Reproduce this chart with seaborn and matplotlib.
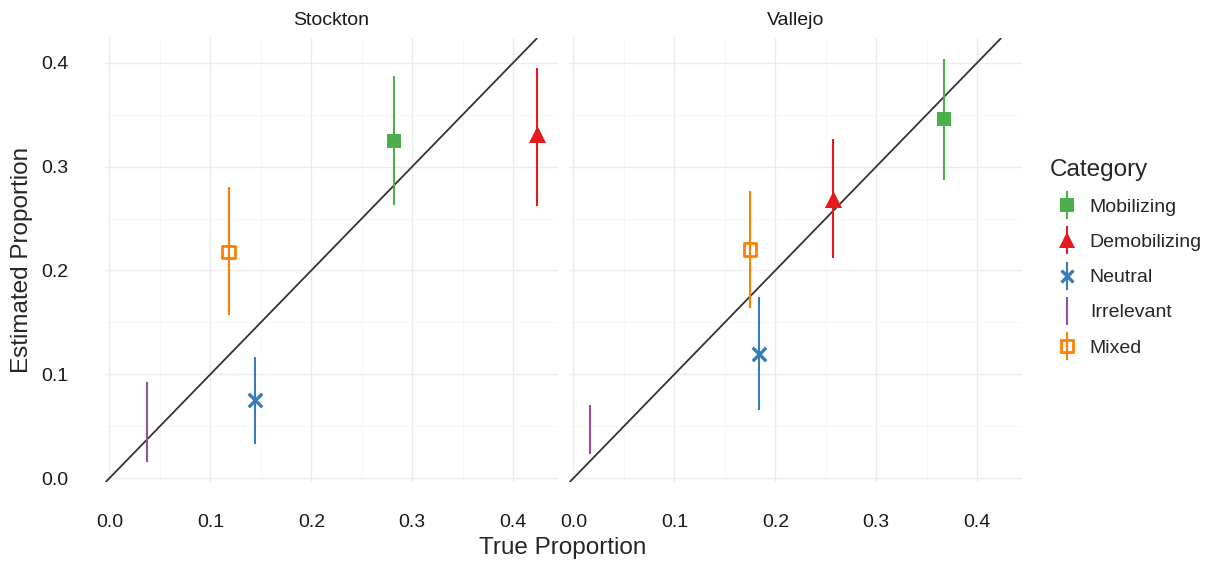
import pandas as pd
import matplotlib
matplotlib.use("Agg")
import matplotlib.pyplot as plt
import seaborn as sns
from matplotlib.lines import Line2D
from matplotlib.legend_handler import HandlerTuple
from matplotlib.ticker import MultipleLocator

# Data
categories = ["Mobilizing", "Demobilizing", "Neutral", "Irrelevant", "Mixed"]
cities = ["Stockton", "Vallejo"]

stockton_true = [0.282, 0.424, 0.144, 0.037, 0.118]
stockton_est = [0.325, 0.331, 0.075, 0.055, 0.218]
stockton_lo = [0.263, 0.262, 0.033, 0.016, 0.157]
stockton_hi = [0.387, 0.395, 0.117, 0.093, 0.280]

vallejo_true = [0.367, 0.257, 0.184, 0.016, 0.175]
vallejo_est = [0.346, 0.269, 0.120, 0.046, 0.220]
vallejo_lo = [0.287, 0.212, 0.066, 0.023, 0.164]
vallejo_hi = [0.404, 0.327, 0.174, 0.070, 0.276]

palette = {"Mobilizing": "#4DAF4A", "Demobilizing": "#E41A1C", "Neutral": "#377EB8",
           "Irrelevant": "#984EA3", "Mixed": "#FF7F00"}

df = pd.concat([
    pd.DataFrame({"city": "Stockton", "category": categories, "true": stockton_true,
                  "est": stockton_est, "lo": stockton_lo, "hi": stockton_hi}),
    pd.DataFrame({"city": "Vallejo", "category": categories, "true": vallejo_true,
                  "est": vallejo_est, "lo": vallejo_lo, "hi": vallejo_hi}),
])

sns.set_theme(style="white")
plt.rcParams["font.family"] = ["Liberation Sans", "DejaVu Sans"]

fig = plt.figure(figsize=(12.12, 5.63), dpi=100)
W, H = 1212, 563
bottom, top = 481.7, 38.4
panels = [(105, 558), (569, 1022)]
axes = []
for left, right in panels:
    axes.append(fig.add_axes([left / W, 1 - bottom / H, (right - left) / W, (bottom - top) / H]))

for ax, city in zip(axes, cities):
    sub = df[df["city"] == city]
    ax.set_xlim(-0.0044, 0.4444)
    ax.set_ylim(-0.0034, 0.4234)
    ax.xaxis.set_major_locator(MultipleLocator(0.1))
    ax.yaxis.set_major_locator(MultipleLocator(0.1))
    ax.xaxis.set_minor_locator(MultipleLocator(0.05))
    ax.yaxis.set_minor_locator(MultipleLocator(0.05))
    ax.grid(which="major", color="#EBEBEB", linewidth=1.0)
    ax.grid(which="minor", color="#F5F5F5", linewidth=0.6)
    ax.set_axisbelow(True)
    for s in ax.spines.values():
        s.set_visible(False)

    ax.axline((0, 0), slope=1, color="#333333", linewidth=1.3, zorder=2)

    # error bars
    for _, r in sub.iterrows():
        ax.vlines(r["true"], r["lo"], r["hi"], color=palette[r["category"]], linewidth=1.5, zorder=3)

    # filled square
    mob = sub[sub["category"] == "Mobilizing"]
    sns.scatterplot(data=mob, x="true", y="est", marker="s", s=95,
                    color=palette["Mobilizing"], linewidth=0, legend=False, ax=ax, zorder=4)
    # filled triangle
    dem = sub[sub["category"] == "Demobilizing"]
    sns.scatterplot(data=dem, x="true", y="est", marker="^", s=150,
                    color=palette["Demobilizing"], linewidth=0, legend=False, ax=ax, zorder=4)
    # open square for Mixed
    mixed = sub[sub["category"] == "Mixed"]
    sns.scatterplot(data=mixed, x="true", y="est", marker="s", s=80,
                    facecolor="none", edgecolor=palette["Mixed"], linewidth=2.0,
                    legend=False, ax=ax, zorder=4)
    # thick X for Neutral
    neutral = sub[sub["category"] == "Neutral"]
    sns.scatterplot(data=neutral, x="true", y="est", marker="x", s=95,
                    color=palette["Neutral"], linewidth=2.4, legend=False, ax=ax, zorder=5)

    ax.tick_params(axis="both", which="both", length=0, labelsize=14, labelcolor="#1a1a1a")
    ax.tick_params(axis="x", pad=23.5)
    ax.tick_params(axis="y", pad=26.5)
    ax.set_xlabel("")
    ax.set_ylabel("")
    ax.set_title(city, fontsize=14, color="#1a1a1a", pad=9.5)

axes[1].tick_params(axis="y", labelleft=False)
fig.text(22 / W, 1 - 260 / H, "Estimated Proportion", fontsize=17.5, rotation=90,
         ha="center", va="center")
fig.text(563 / W, 1 - 548 / H, "True Proportion", fontsize=17.5, ha="center", va="center")

# legend: vertical error line combined with marker
handles = []
for c in categories:
    bar = Line2D([], [], color=palette[c], marker="|", markersize=20, markeredgewidth=1.5, linestyle="none")
    if c == "Irrelevant":
        handles.append(bar)
    elif c == "Mixed":
        handles.append((bar, Line2D([], [], marker="s", markersize=8.5, markerfacecolor="none",
                                    markeredgecolor=palette[c], markeredgewidth=2.0, linestyle="none")))
    elif c == "Neutral":
        handles.append((bar, Line2D([], [], marker="x", markersize=9, color=palette[c],
                                    markeredgewidth=2.4, linestyle="none")))
    elif c == "Demobilizing":
        handles.append((bar, Line2D([], [], marker="^", markersize=11, color=palette[c],
                                    markeredgewidth=0, linestyle="none")))
    else:
        handles.append((bar, Line2D([], [], marker="s", markersize=9.4, color=palette[c],
                                    markeredgewidth=0, linestyle="none")))

leg = fig.legend(handles, categories, title="Category", loc="upper left",
                 bbox_to_anchor=(1050 / W, 1 - 159 / H), frameon=False,
                 handler_map={tuple: HandlerTuple(ndivide=1, pad=0)},
                 fontsize=14, title_fontsize=17.5, labelspacing=0.9,
                 handlelength=1.75, handletextpad=0.3, alignment="left",
                 borderpad=0, borderaxespad=0)

fig.savefig("out.png", dpi=100)
